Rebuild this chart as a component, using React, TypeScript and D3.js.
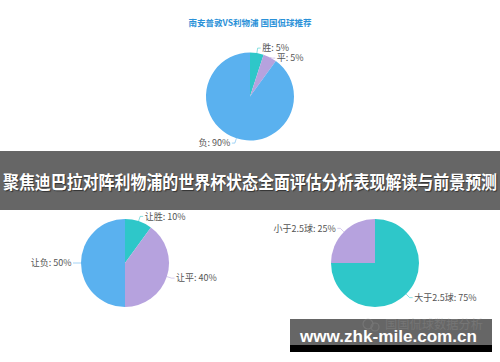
import React from "react";
import * as d3 from "d3";

const W = 500;
const H = 362;

const titleText = "南安普敦VS利物浦 国国侃球推荐";
const bandText = "聚焦迪巴拉对阵利物浦的世界杯状态全面评估分析表现解读与前景预测";
const siteText = "www.zhk-mile.com.cn";
const watermarkText = "国国侃球数据分析";

const resultNames = ["胜", "平", "负"];
const resultValues = [5, 5, 90];

const handicapNames = ["让胜", "让平", "让负"];
const handicapValues = [10, 40, 50];

const goalsNames = ["大于2.5球", "小于2.5球"];
const goalsValues = [75, 25];

const COLORS = ["#2ec7c9", "#b6a2de", "#5ab1ef"];
const FONT = "'Noto Sans CJK SC', 'Noto Sans', sans-serif";

type PieProps = { cx: number; cy: number; r: number; names: string[]; values: number[] };

function Pie({ cx, cy, r, names, values }: PieProps) {
  const data = names.map((n, i) => ({ name: n, value: values[i], idx: i }));
  const arcs = d3.pie<any>().sort(null).value((d: any) => d.value)(data);
  const arcGen = d3.arc<any>().innerRadius(0).outerRadius(r);
  const L1 = 5, L2 = 3, gap = 1.5;
  const labels = arcs.map((a) => {
    const mid = (a.startAngle + a.endAngle) / 2;
    const sx = Math.sin(mid), sy = -Math.cos(mid);
    const right = sx >= 0;
    return {
      a, right,
      p0: [cx + r * sx, cy + r * sy],
      p1: [cx + (r + L1) * sx, cy + (r + L1) * sy],
      y: cy + (r + L1) * sy,
    };
  });
  // simple overlap resolution per side
  [true, false].forEach((side) => {
    const ls = labels.filter((l) => l.right === side).sort((p, q) => p.y - q.y);
    for (let i = 1; i < ls.length; i++) {
      if (ls[i].y - ls[i - 1].y < 10) ls[i].y = ls[i - 1].y + 10;
    }
  });
  return (
    <g>
      {arcs.map((a, i) => (
        <path key={i} d={arcGen(a) as string} transform={`translate(${cx},${cy})`} fill={COLORS[a.data.idx]} />
      ))}
      {labels.map((l, i) => {
        const x2 = l.p1[0] + (l.right ? L2 : -L2);
        return (
          <g key={"l" + i}>
            <polyline
              points={`${l.p0[0]},${l.p0[1]} ${l.p1[0]},${l.y} ${x2},${l.y}`}
              fill="none"
              stroke={COLORS[l.a.data.idx]}
              strokeWidth={0.8}
              opacity={0.7}
            />
            <text
              x={x2 + (l.right ? gap : -gap)}
              y={l.y}
              dy="0.35em"
              textAnchor={l.right ? "start" : "end"}
              fontSize={9}
              fill="#555"
              fontFamily={FONT}
            >
              {`${l.a.data.name}: ${l.a.data.value}%`}
            </text>
          </g>
        );
      })}
    </g>
  );
}

export default function App() {
  return (
    <svg width={W} height={H} style={{ position: "absolute", left: 0, top: 0, background: "#fff" }}>
      <rect x={0} y={0} width={W} height={H} fill="#fff" />
      <text x={250} y={23} dy="0.35em" textAnchor="middle" fontSize={8.5} fontWeight="bold" fill="#2a91d8" fontFamily={FONT}>
        {titleText}
      </text>
      <Pie cx={250} cy={96.5} r={44} names={resultNames} values={resultValues} />

      <rect x={0} y={151} width={W} height={59} fill="#666" />
      <text
        x={250}
        y={183}
        dy="0.35em"
        textAnchor="middle"
        fontSize={18}
        fontWeight="bold"
        fill="#fff"
        fontFamily={FONT}
        textLength={494}
        lengthAdjust="spacingAndGlyphs"
        style={{ textShadow: "1px 1px 1px rgba(0,0,0,0.5)" }}
      >
        {bandText}
      </text>

      <Pie cx={125} cy={263} r={44} names={handicapNames} values={handicapValues} />
      <Pie cx={375} cy={263} r={44} names={goalsNames} values={goalsValues} />

      <rect x={290} y={319} width={202} height={26} fill="#666" />
      <rect x={290} y={345} width={202} height={7} fill="#000" />
      <text
        x={300}
        y={341.5}
        fontSize={16}
        fontWeight="bold"
        fill="#fff"
        fontFamily="'Liberation Sans', Arial, sans-serif"
        textLength={177}
        lengthAdjust="spacingAndGlyphs"
      >
        {siteText}
      </text>
      <g opacity={0.3}>
        <circle cx={368} cy={324} r={5} fill="none" stroke="#999" strokeWidth={1.2} />
        <circle cx={375} cy={327} r={4} fill="none" stroke="#999" strokeWidth={1.2} />
        <text x={385} y={325} dy="0.35em" fontSize={12} fill="#999" fontFamily={FONT} textLength={98} lengthAdjust="spacingAndGlyphs">
          {watermarkText}
        </text>
      </g>
    </svg>
  );
}
